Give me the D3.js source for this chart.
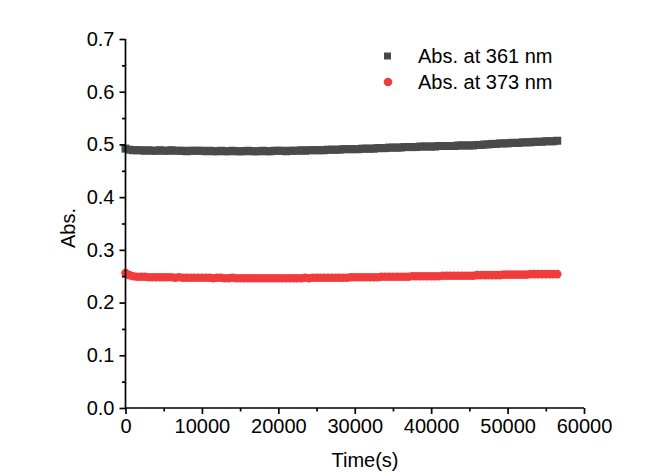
<!DOCTYPE html>
<html><head><meta charset="utf-8">
<script src="https://cdn.jsdelivr.net/npm/d3@7"></script>
<style>body{margin:0;background:#fff}svg{display:block}text{font-family:"Liberation Sans",Arial,sans-serif;fill:#000}</style>
</head><body><svg id="c" width="664" height="473"></svg>
<script>
const times = [
0,500,1000,1500,2000,2500,3000,3500,4000,4500,
5000,5500,6000,6500,7000,7500,8000,8500,9000,9500,
10000,10500,11000,11500,12000,12500,13000,13500,14000,14500,
15000,15500,16000,16500,17000,17500,18000,18500,19000,19500,
20000,20500,21000,21500,22000,22500,23000,23500,24000,24500,
25000,25500,26000,26500,27000,27500,28000,28500,29000,29500,
30000,30500,31000,31500,32000,32500,33000,33500,34000,34500,
35000,35500,36000,36500,37000,37500,38000,38500,39000,39500,
40000,40500,41000,41500,42000,42500,43000,43500,44000,44500,
45000,45500,46000,46500,47000,47500,48000,48500,49000,49500,
50000,50500,51000,51500,52000,52500,53000,53500,54000,54500,
55000,55500,56000,56500];
const abs361 = [
0.492,0.490,0.489,0.489,0.489,0.488,0.489,0.488,0.488,0.489,
0.488,0.488,0.489,0.488,0.488,0.488,0.487,0.488,0.488,0.488,
0.488,0.487,0.488,0.487,0.487,0.488,0.487,0.487,0.488,0.487,
0.487,0.487,0.488,0.487,0.487,0.487,0.488,0.487,0.487,0.488,
0.488,0.488,0.487,0.488,0.488,0.488,0.489,0.488,0.489,0.489,
0.489,0.489,0.489,0.490,0.490,0.490,0.490,0.491,0.491,0.491,
0.491,0.491,0.492,0.492,0.492,0.492,0.493,0.493,0.493,0.494,
0.494,0.494,0.494,0.495,0.495,0.495,0.495,0.496,0.496,0.496,
0.496,0.496,0.497,0.497,0.497,0.497,0.497,0.498,0.498,0.498,
0.498,0.498,0.499,0.499,0.500,0.500,0.501,0.501,0.502,0.502,
0.502,0.503,0.503,0.503,0.504,0.504,0.504,0.505,0.505,0.505,
0.506,0.506,0.506,0.507];
const abs373 = [
0.256,0.252,0.250,0.249,0.249,0.249,0.248,0.248,0.248,0.248,
0.248,0.248,0.248,0.247,0.248,0.247,0.247,0.247,0.247,0.247,
0.247,0.247,0.247,0.246,0.247,0.247,0.246,0.246,0.247,0.246,
0.246,0.246,0.246,0.246,0.246,0.246,0.246,0.246,0.246,0.246,
0.246,0.246,0.246,0.246,0.246,0.246,0.246,0.247,0.246,0.247,
0.247,0.247,0.247,0.247,0.247,0.247,0.247,0.247,0.247,0.248,
0.248,0.248,0.248,0.248,0.248,0.248,0.248,0.249,0.249,0.249,
0.249,0.249,0.249,0.249,0.249,0.250,0.250,0.250,0.250,0.250,
0.250,0.250,0.250,0.251,0.251,0.251,0.251,0.251,0.251,0.251,
0.251,0.251,0.252,0.252,0.252,0.252,0.252,0.252,0.252,0.253,
0.253,0.253,0.253,0.253,0.253,0.253,0.254,0.254,0.254,0.254,
0.254,0.254,0.254,0.254];
const xTicks = [0,10000,20000,30000,40000,50000,60000];
const yTicks = [0.0,0.1,0.2,0.3,0.4,0.5,0.6,0.7];
const seriesNames = ["Abs. at 361 nm","Abs. at 373 nm"];
const colors = ["#4a4a4a","#f03c3c"];

const FS = 20;
const svg = d3.select("#c");
const x = d3.scaleLinear().domain([0,60000]).range([125.5,584]);
const y = d3.scaleLinear().domain([0,0.7]).range([408,39]);

// data
const g = svg.append("g");
g.selectAll("rect.s1").data(times.map((t,i)=>[t,abs361[i]])).join("rect")
  .attr("x",d=>x(d[0])-4).attr("y",d=>y(d[1])-4).attr("width",8).attr("height",8)
  .attr("fill",colors[0]);
g.selectAll("circle.s2").data(times.map((t,i)=>[t,abs373[i]])).join("circle")
  .attr("cx",d=>x(d[0])).attr("cy",d=>y(d[1])).attr("r",4.3)
  .attr("fill",colors[1]);

// axes
const xMinor = d3.range(5000,60000,10000);
const yMinor = d3.range(0.05,0.7,0.1);
const xa = svg.append("g").attr("transform","translate(0,408)");
xa.call(d3.axisBottom(x).tickValues(xTicks).tickFormat(d3.format("d")).tickSize(6).tickPadding(5).tickSizeOuter(0));
const xm = svg.append("g").attr("transform","translate(0,408)");
xm.call(d3.axisBottom(x).tickValues(xMinor).tickSize(3.5).tickFormat("").tickSizeOuter(0));
xm.select(".domain").remove();
const ya = svg.append("g").attr("transform","translate(125.5,0)");
ya.call(d3.axisLeft(y).tickValues(yTicks).tickFormat(d3.format(".1f")).tickSize(6).tickPadding(5).tickSizeOuter(0));
const ym = svg.append("g").attr("transform","translate(125.5,0)");
ym.call(d3.axisLeft(y).tickValues(yMinor).tickSize(3.5).tickFormat("").tickSizeOuter(0));
ym.select(".domain").remove();
svg.selectAll(".domain,.tick line").attr("stroke","#000").attr("stroke-width",1.7);
svg.selectAll(".tick text").attr("font-size",FS).attr("font-family","Liberation Sans, Arial, sans-serif").attr("fill","#000");
ya.select(".domain").attr("d","M0,408V39");
xa.select(".domain").attr("d","M125.5,0H584");

// axis titles
svg.append("text").attr("x",365).attr("y",467).attr("text-anchor","middle").attr("font-size",FS).text("Time(s)");
svg.append("text").attr("transform","translate(75,228) rotate(-90)").attr("text-anchor","middle").attr("font-size",FS).text("Abs.");

// legend
const lg = svg.append("g");
lg.append("rect").attr("x",384).attr("y",52.5).attr("width",7).attr("height",7).attr("fill",colors[0]);
lg.append("circle").attr("cx",388).attr("cy",82).attr("r",4.3).attr("fill",colors[1]);
lg.append("text").attr("x",418).attr("y",63).attr("font-size",FS).text(seriesNames[0]);
lg.append("text").attr("x",418).attr("y",89).attr("font-size",FS).text(seriesNames[1]);
</script></body></html>
